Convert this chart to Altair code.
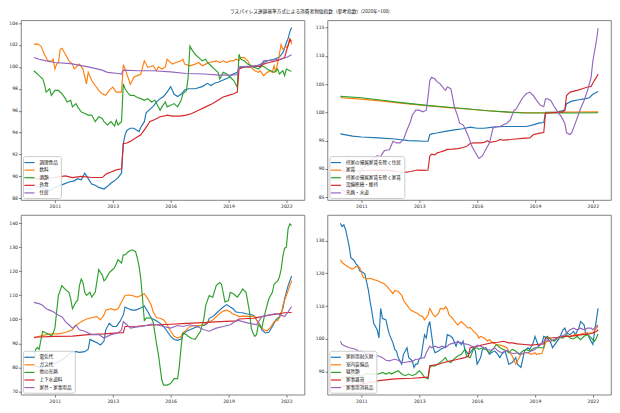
import altair as alt
import pandas as pd

TITLE = "ラスパイレス連鎖基準方式による消費者物価指数（参考指数）(2020年=100)"

# x = month index counted from 2010-01 (0) to 2022-04 (147)
TICK_MONTHS = [12, 45, 78, 111, 144]
TICK_LABELS = ["2011", "2013", "2016", "2019", "2022"]
COLORS = ["#1f77b4", "#ff7f0e", "#2ca02c", "#d62728", "#9467bd"]

# ---------------- panel 1 ----------------
P1_NAMES = ["調理食品", "飲料", "酒類", "外食", "住居"]
cooked_food = [(0,89.3),(3,89.0),(6,88.9),(9,88.7),(12,89.0),(14,89.1),(17,89.3),(20,89.5),(23,89.6),(25,89.8),(27,89.7),(29,90.3),(31,89.8),(33,89.3),(35,89.2),(37,89.0),(40,88.85),(42,89.1),(44,89.4),(46,89.6),(48,89.9),(50,90.3),(51,93.0),(52,93.8),(53,94.2),(55,94.4),(57,94.4),(59,94.2),(60,94.1),(61,94.5),(63,95.0),(64,95.8),(66,96.1),(68,96.4),(70,96.8),(72,97.1),(74,97.3),(76,97.7),(78,98.2),(80,97.5),(82,97.3),(84,97.5),(86,97.9),(88,98.0),(92,98.0),(96,98.2),(99,98.5),(101,98.3),(103,98.5),(105,98.6),(108,98.8),(111,99.0),(113,99.3),(116,99.5),(117,99.9),(120,100.0),(126,100.0),(129,100.1),(131,100.4),(134,100.6),(137,100.7),(140,100.9),(142,101.3),(144,102.2),(145,102.6),(146,103.2),(147,103.6)]
beverages = [(0,102.05),(2,102.1),(4,101.9),(6,101.15),(8,100.55),(10,100.5),(11,100.7),(12,99.8),(13,100.25),(14,100.4),(15,101.6),(16,101.7),(18,101.15),(20,100.55),(22,100.25),(23,99.8),(25,100.1),(26,100.25),(28,99.8),(30,98.45),(31,99.5),(33,98.75),(35,98.3),(37,97.85),(39,97.55),(41,97.4),(43,97.85),(45,98.15),(47,97.7),(50,97.7),(51,100.2),(52,99.8),(54,98.9),(55,98.4),(57,99.05),(59,99.2),(61,99.35),(63,100.55),(65,99.95),(68,100.1),(70,99.65),(71,100.0),(73,99.8),(75,100.0),(76,100.7),(77,100.55),(79,100.25),(81,100.4),(84,100.55),(85,100.7),(86,100.25),(89,100.1),(92,100.25),(94,100.4),(96,100.1),(98,100.25),(100,100.4),(104,100.55),(106,100.4),(108,100.55),(110,100.4),(112,100.55),(114,100.55),(115,100.7),(117,100.6),(118,100.85),(120,100.85),(122,100.55),(124,99.95),(126,99.65),(128,99.5),(129,99.65),(131,99.2),(133,99.5),(135,99.65),(136,99.5),(137,100.1),(138,99.5),(140,101.15),(141,102.05),(142,101.6),(143,101.75),(145,101.9),(146,102.65),(147,102.05)]
alcohol = [(0,99.65),(3,99.2),(5,98.9),(6,98.45),(7,97.7),(9,98.0),(10,97.4),(12,97.85),(14,97.85),(16,97.55),(18,97.1),(19,96.8),(21,96.95),(22,96.35),(24,96.65),(25,96.35),(27,95.9),(29,95.75),(31,95.6),(33,95.6),(35,95.0),(37,95.45),(39,95.3),(40,95.0),(42,94.7),(44,95.0),(46,94.6),(47,95.15),(48,94.7),(50,95.0),(51,98.45),(52,98.0),(54,97.55),(55,97.4),(57,97.4),(59,97.2),(61,97.1),(63,96.95),(65,97.1),(67,96.8),(69,96.95),(70,96.65),(72,96.05),(73,96.35),(75,96.8),(76,96.35),(78,96.5),(80,96.65),(82,96.35),(84,96.95),(85,97.55),(87,97.85),(88,99.05),(89,101.9),(90,101.6),(92,101.15),(94,100.85),(96,100.55),(98,100.7),(99,100.4),(101,100.1),(103,99.8),(105,99.5),(106,98.9),(108,99.5),(110,99.35),(112,99.05),(114,98.75),(116,98.15),(117,101.15),(118,100.7),(120,100.55),(122,100.25),(124,100.1),(126,99.95),(128,99.8),(130,100.1),(132,99.95),(133,99.8),(135,99.65),(137,99.5),(139,99.8),(140,99.35),(142,99.65),(143,99.2),(144,99.8),(146,99.65),(147,99.6)]
eating_out = [(0,89.8),(6,89.8),(12,89.9),(18,90.05),(22,89.9),(27,90.0),(33,89.9),(39,89.9),(41,90.2),(43,90.35),(44,90.4),(47,90.6),(50,90.7),(51,93.0),(53,93.05),(55,93.2),(58,93.5),(61,93.8),(63,94.25),(65,94.7),(66,95.0),(69,95.2),(72,95.45),(74,95.5),(76,95.6),(79,95.5),(83,95.5),(87,95.6),(90,95.75),(94,96.05),(98,96.35),(102,96.65),(105,96.95),(108,97.25),(111,97.4),(114,97.55),(116,97.7),(117,99.8),(120,100.0),(123,100.0),(127,100.1),(129,100.0),(131,100.25),(134,100.4),(138,100.55),(141,100.7),(143,100.85),(144,101.45),(146,102.5),(147,102.3)]
housing = [(0,100.85),(3,100.7),(7,100.55),(12,100.4),(21,100.3),(31,100.0),(39,99.7),(42,99.5),(48,99.4),(50,99.35),(51,99.7),(59,99.65),(68,99.65),(78,99.55),(87,99.4),(97,99.35),(106,99.25),(113,99.25),(116,99.3),(117,100.0),(127,100.1),(130,100.3),(131,100.55),(135,100.6),(140,100.7),(144,100.85),(147,101.1)]

# ---------------- panel 2 ----------------
P2_NAMES = ["持家の帰属家賃を除く住居", "家賃", "持家の帰属家賃を除く家賃", "設備修繕・維持", "光熱・水道"]
housing_ex_imputed = [(0,96.2),(7,95.8),(12,95.65),(22,95.5),(31,95.3),(39,95.0),(48,94.9),(50,94.9),(51,96.05),(52,96.2),(55,96.35),(59,96.6),(65,96.9),(70,97.1),(74,97.4),(78,97.2),(82,97.2),(87,97.4),(93,97.5),(98,97.5),(106,97.5),(110,97.8),(113,98.1),(116,98.2),(117,100.0),(123,100.0),(128,100.4),(129,101.55),(132,102.0),(136,102.25),(140,102.45),(142,102.6),(144,103.2),(147,103.7)]
rent = [(0,102.6),(12,102.35),(24,102.0),(36,101.6),(48,101.25),(60,100.9),(72,100.6),(84,100.3),(96,100.05),(108,99.95),(117,99.95),(120,100.0),(132,100.05),(147,100.1)]
rent_ex_imputed = [(0,102.85),(12,102.6),(24,102.15),(36,101.7),(48,101.3),(60,100.95),(72,100.65),(84,100.3),(96,100.05),(104,99.9),(117,99.9),(120,99.95),(132,99.9),(147,99.95)]
repairs = [(0,89.6),(12,89.7),(24,89.8),(29,89.7),(33,89.5),(37,89.4),(40,89.55),(44,89.8),(48,89.75),(50,89.8),(51,92.3),(52,92.6),(54,92.5),(55,92.8),(57,93.0),(59,93.2),(61,93.45),(64,93.5),(67,93.6),(70,93.8),(72,94.0),(74,94.5),(76,94.6),(80,94.6),(82,94.7),(84,95.0),(85,94.7),(89,94.9),(91,95.2),(93,95.1),(97,95.2),(100,95.3),(104,95.4),(108,95.5),(110,96.05),(112,96.2),(113,96.3),(116,96.45),(117,99.85),(121,99.95),(124,100.0),(127,100.1),(128,100.4),(129,103.0),(131,103.6),(135,103.9),(138,104.2),(141,104.5),(143,104.6),(144,105.2),(146,106.2),(147,106.8)]
fuel_light_water = [(0,86.3),(3,86.0),(6,86.8),(9,87.8),(12,90.0),(15,90.6),(17,91.45),(19,92.0),(21,92.3),(23,92.2),(25,93.2),(26,93.3),(28,93.4),(30,94.9),(32,94.6),(34,94.6),(36,95.2),(38,96.9),(40,98.4),(41,99.5),(43,100.4),(45,100.4),(47,100.1),(49,100.4),(50,102.7),(51,105.6),(52,106.2),(54,105.9),(55,105.5),(57,105.0),(59,104.2),(60,103.9),(61,104.5),(63,104.2),(64,102.7),(65,101.0),(67,99.25),(68,98.1),(70,97.8),(71,97.2),(73,95.8),(75,94.0),(77,92.9),(79,91.85),(81,92.3),(83,93.5),(85,94.6),(86,95.8),(87,97.2),(89,97.5),(91,97.5),(93,97.8),(95,98.1),(97,98.7),(99,100.4),(100,100.5),(101,101.0),(103,102.1),(104,102.6),(106,103.3),(108,103.6),(110,103.0),(112,102.1),(114,101.3),(116,101.0),(117,102.4),(118,102.4),(120,102.1),(122,101.0),(124,100.1),(126,99.25),(128,98.1),(129,96.4),(131,96.1),(132,96.4),(134,98.1),(136,99.8),(137,100.7),(139,102.1),(141,103.9),(143,106.2),(144,109.1),(146,112.6),(147,114.9)]

# ---------------- panel 3 ----------------
P3_NAMES = ["電気代", "ガス代", "他の光熱", "上下水道料", "家具・家事用品"]
electricity = [(0,80.5),(4,80.0),(8,80.5),(11,81.5),(14,82.1),(18,84.1),(21,86.1),(24,86.5),(26,86.2),(29,86.5),(31,87.5),(32,91.6),(34,90.9),(36,90.2),(38,89.3),(40,90.9),(41,95.6),(43,98.3),(45,97.0),(47,97.0),(49,99.0),(51,101.7),(52,105.1),(54,104.4),(56,103.8),(58,103.8),(61,104.7),(63,105.5),(65,103.1),(67,100.4),(69,99.7),(70,99.3),(72,98.3),(74,97.0),(76,95.0),(78,92.9),(80,91.6),(82,91.2),(84,91.8),(85,93.6),(87,95.0),(89,95.6),(92,96.6),(95,97.4),(97,97.4),(99,98.3),(100,100.4),(102,101.1),(104,102.4),(106,103.8),(108,105.1),(110,106.1),(112,105.1),(114,104.2),(115,103.1),(117,102.8),(119,102.7),(121,102.3),(123,102.1),(125,101.7),(126,101.1),(127,99.7),(129,97.7),(130,95.6),(132,94.3),(134,94.6),(136,97.0),(138,99.7),(140,101.1),(142,104.4),(143,108.5),(145,114.0),(147,118.0)]
gas = [(0,92.2),(3,92.9),(7,93.6),(10,93.9),(14,93.9),(18,94.5),(22,95.6),(24,97.4),(27,99.0),(30,100.1),(33,100.6),(36,101.1),(38,99.7),(40,101.8),(41,103.8),(44,104.4),(46,103.8),(48,104.4),(50,107.2),(52,109.9),(54,110.1),(56,109.9),(59,109.2),(61,109.9),(63,110.6),(65,108.5),(67,105.8),(68,103.1),(70,100.6),(72,100.4),(74,99.7),(76,97.7),(78,95.0),(80,92.9),(82,92.2),(84,92.9),(85,94.3),(87,95.6),(89,97.0),(92,97.4),(95,97.4),(97,97.7),(98,98.3),(100,99.0),(102,99.7),(104,101.1),(106,102.4),(108,103.4),(110,103.8),(112,103.1),(113,102.4),(115,101.8),(117,101.1),(119,101.3),(123,101.2),(126,101.1),(127,99.7),(129,97.4),(131,95.6),(133,95.2),(135,96.6),(137,99.0),(139,99.5),(141,101.8),(142,105.8),(144,109.9),(146,114.0),(147,116.0)]
other_fuel = [(0,83.4),(1,87.5),(2,88.2),(3,87.5),(5,95.0),(7,94.3),(9,93.6),(10,92.9),(11,94.3),(12,96.3),(13,103.1),(14,109.9),(16,114.0),(18,112.3),(20,111.2),(21,108.5),(22,104.4),(24,107.2),(25,107.8),(26,114.0),(27,116.7),(28,115.3),(29,111.2),(30,109.9),(32,111.2),(33,109.2),(35,111.2),(37,120.7),(38,119.4),(39,118.5),(40,116.0),(41,116.7),(43,119.4),(44,120.1),(46,121.4),(48,124.8),(50,123.4),(51,126.8),(52,126.8),(53,127.5),(54,128.2),(56,128.9),(58,128.2),(59,125.5),(60,122.1),(61,116.7),(62,108.5),(63,99.5),(64,100.4),(65,100.6),(67,100.4),(68,99.0),(69,94.3),(70,89.5),(71,85.5),(72,80.0),(73,74.6),(74,72.6),(76,72.6),(78,73.2),(80,75.3),(82,75.3),(83,80.7),(84,88.8),(85,94.3),(87,93.6),(88,92.9),(90,92.0),(92,91.6),(95,95.0),(97,100.4),(98,105.8),(100,109.9),(102,109.2),(104,114.0),(106,115.3),(107,114.6),(109,107.2),(111,107.8),(112,111.2),(114,110.5),(116,109.2),(118,111.2),(119,112.6),(121,111.2),(123,103.1),(124,96.3),(125,94.3),(126,92.9),(127,93.6),(128,97.7),(130,96.3),(132,103.1),(134,108.5),(136,111.2),(137,114.6),(139,116.0),(140,117.5),(141,120.7),(142,126.2),(143,129.6),(144,130.0),(145,137.7),(146,139.7),(147,139.0)]
water = [(0,92.5),(12,92.9),(22,93.0),(31,93.6),(40,93.9),(48,94.3),(51,94.4),(52,97.0),(59,97.1),(68,97.6),(78,97.9),(87,98.3),(97,98.6),(106,99.0),(116,99.3),(117,100.1),(125,100.4),(130,101.1),(134,101.7),(138,102.1),(143,102.7),(147,102.8)]
furniture = [(0,107.0),(3,106.5),(5,105.8),(7,104.4),(9,103.8),(11,103.1),(14,101.7),(16,101.1),(18,99.0),(20,97.7),(22,96.3),(24,97.5),(26,95.6),(29,95.0),(33,93.6),(37,93.6),(40,92.2),(44,93.6),(48,94.3),(50,95.6),(51,99.0),(53,97.7),(55,96.3),(59,96.8),(63,97.2),(67,98.0),(70,97.7),(74,97.0),(78,96.3),(82,97.4),(85,97.0),(89,97.7),(93,97.0),(97,95.6),(100,95.0),(104,96.3),(108,97.0),(112,97.7),(116,99.7),(119,99.0),(123,98.3),(127,97.7),(130,101.1),(134,101.7),(138,102.4),(141,101.7),(143,101.1),(145,103.1),(147,105.3)]

# ---------------- panel 4 ----------------
P4_NAMES = ["家庭用耐久財", "室内装備品", "寝具類", "家事雑貨", "家事用消耗品"]
durables = [(0,135.3),(1,134.3),(2,134.8),(3,133.3),(5,128.3),(6,124.8),(7,124.3),(8,123.8),(9,122.8),(10,122.3),(11,120.8),(13,120.3),(14,119.8),(15,117.3),(16,114.8),(17,111.3),(18,108.3),(19,104.8),(20,103.8),(21,102.8),(22,100.3),(23,109.3),(24,106.3),(26,105.8),(27,103.3),(28,101.3),(30,98.8),(31,96.8),(32,96.3),(33,94.3),(35,92.3),(36,95.3),(38,97.3),(39,94.3),(41,93.3),(42,91.3),(43,92.3),(44,92.3),(45,94.0),(46,94.3),(48,101.3),(49,100.3),(50,103.8),(51,105.3),(52,101.3),(53,97.3),(54,95.8),(56,96.3),(57,96.8),(59,97.3),(60,97.8),(61,101.3),(63,100.8),(64,100.3),(66,97.8),(67,99.3),(69,98.3),(70,99.3),(71,96.8),(73,95.3),(74,95.8),(76,97.3),(77,96.3),(78,92.3),(80,94.3),(81,96.8),(83,97.3),(85,95.3),(86,95.8),(88,96.3),(89,95.8),(91,94.3),(92,95.3),(94,96.3),(95,94.3),(96,92.3),(98,92.8),(100,94.3),(101,92.3),(103,91.3),(104,93.8),(105,96.3),(107,97.3),(108,96.8),(110,98.8),(111,100.8),(112,99.3),(113,97.8),(115,98.8),(116,100.8),(118,100.3),(120,98.8),(121,97.3),(123,98.8),(125,100.3),(127,102.8),(128,103.3),(129,101.8),(131,101.3),(133,102.3),(134,101.3),(136,103.3),(137,105.3),(139,104.3),(140,101.3),(141,101.8),(142,100.3),(144,98.3),(145,102.3),(146,105.8),(147,109.3)]
interior = [(0,124.1),(1,123.3),(3,122.5),(5,121.8),(7,121.3),(9,122.1),(11,121.8),(12,120.3),(13,118.8),(15,118.3),(17,118.5),(19,118.1),(21,117.8),(23,117.3),(25,116.8),(27,115.8),(28,115.1),(30,113.8),(31,114.8),(33,114.5),(35,113.3),(36,111.8),(38,110.3),(40,108.8),(42,108.3),(44,107.8),(45,107.3),(47,106.8),(48,105.8),(50,107.3),(51,109.3),(52,108.3),(53,107.3),(54,106.8),(56,107.8),(57,109.3),(59,109.1),(60,109.8),(61,109.1),(62,107.3),(64,106.3),(66,104.8),(67,104.3),(69,105.3),(71,104.3),(73,103.3),(74,103.5),(76,102.3),(78,101.3),(79,100.3),(80,100.8),(82,100.3),(84,99.3),(85,99.8),(87,98.8),(89,98.3),(91,98.1),(93,97.8),(95,97.3),(96,96.3),(98,94.8),(100,92.3),(101,93.3),(103,95.3),(105,95.8),(107,95.8),(109,95.3),(111,95.8),(112,95.3),(115,95.6),(117,98.8),(118,99.3),(120,99.3),(122,99.8),(124,100.3),(126,100.3),(128,100.8),(131,100.8),(134,101.3),(136,101.3),(139,101.8),(142,101.8),(144,101.8),(146,103.3),(147,103.8)]
bedding = [(0,88.0),(5,88.5),(9,89.0),(12,88.7),(15,89.5),(18,89.3),(22,89.3),(24,89.8),(26,89.3),(28,89.8),(29,89.3),(31,89.8),(33,90.3),(35,89.3),(37,88.8),(39,89.3),(41,88.8),(43,89.3),(45,90.3),(46,89.8),(48,88.3),(50,87.8),(51,91.3),(52,91.8),(54,91.8),(56,92.5),(58,93.3),(60,94.3),(61,93.3),(63,92.8),(65,94.0),(67,94.8),(69,95.3),(71,96.8),(72,94.8),(74,94.3),(76,97.0),(78,97.3),(79,96.8),(81,97.3),(83,96.8),(85,95.8),(87,96.8),(89,98.3),(91,97.3),(93,96.8),(95,96.3),(96,95.8),(98,96.8),(100,96.3),(102,95.3),(104,96.3),(106,96.8),(108,96.3),(110,97.0),(111,97.3),(113,97.3),(116,97.3),(117,100.3),(118,100.8),(120,99.8),(122,99.3),(124,100.3),(125,100.8),(127,100.3),(129,101.3),(131,100.3),(133,100.0),(135,100.8),(137,99.8),(139,100.8),(141,101.3),(143,100.3),(145,99.3),(146,100.3),(147,101.5)]
household_goods = [(0,85.5),(6,85.8),(12,86.2),(18,86.8),(22,87.3),(31,87.8),(41,88.0),(48,88.3),(50,88.3),(51,91.8),(56,92.3),(59,92.8),(63,93.3),(67,93.8),(71,94.3),(73,94.8),(74,97.3),(76,97.5),(78,97.8),(82,98.3),(86,98.8),(90,99.0),(93,99.3),(96,98.8),(98,98.8),(101,98.5),(105,98.3),(109,98.1),(112,98.3),(116,98.5),(117,100.3),(120,100.3),(124,100.5),(127,100.8),(131,100.8),(135,101.1),(138,101.3),(142,101.5),(144,101.8),(146,102.3),(147,102.8)]
consumables = [(0,99.3),(1,98.3),(3,97.8),(5,97.3),(7,97.1),(9,96.8),(11,96.1),(12,96.3),(14,95.8),(16,95.5),(18,95.1),(20,94.8),(22,94.8),(24,94.3),(26,93.5),(28,93.3),(29,93.5),(31,93.8),(33,93.5),(35,92.8),(37,92.8),(39,93.1),(41,93.1),(43,93.8),(45,93.8),(46,94.1),(48,94.3),(49,95.8),(51,97.8),(52,97.3),(54,97.8),(56,97.3),(58,97.8),(60,97.3),(62,98.3),(63,98.5),(65,98.8),(67,99.1),(69,98.8),(71,98.5),(73,98.3),(75,97.8),(77,97.3),(78,98.1),(80,97.8),(82,97.3),(84,96.8),(86,96.5),(88,97.3),(90,96.3),(92,95.8),(94,96.3),(95,96.5),(97,95.8),(99,95.5),(101,95.8),(103,95.3),(105,95.8),(107,95.8),(109,96.3),(111,96.8),(112,97.3),(114,98.1),(117,99.8),(118,99.5),(120,99.3),(122,99.8),(124,100.3),(126,100.8),(128,101.3),(129,101.8),(131,102.8),(133,103.3),(135,102.8),(137,103.3),(139,102.8),(141,103.3),(143,103.3),(144,102.8),(146,103.8),(147,104.3)]

PANELS = [
    (P1_NAMES, [cooked_food, beverages, alcohol, eating_out, housing], [87.85, 104.25], list(range(88, 105, 2))),
    (P2_NAMES, [housing_ex_imputed, rent, rent_ex_imputed, repairs, fuel_light_water], [84.5, 116.3], list(range(85, 116, 5))),
    (P3_NAMES, [electricity, gas, other_fuel, water, furniture], [68.6, 143.4], list(range(70, 141, 10))),
    (P4_NAMES, [durables, interior, bedding, household_goods, consumables], [83.0, 137.8], list(range(90, 131, 10))),
]

label_expr = " : ".join(
    f"datum.value == {m} ? '{lab}'" for m, lab in zip(TICK_MONTHS, TICK_LABELS)
) + " : ''"

W, H = 284, 180


def panel(names, series, ydom, yticks):
    rows = []
    for k, (name, pts) in enumerate(zip(names, series)):
        for t, v in pts:
            rows.append({"series": name, "order": k, "t": t, "v": v})
    df = pd.DataFrame(rows)
    return alt.Chart(df).mark_line(strokeWidth=1.15, clip=True).encode(
        x=alt.X("t:Q",
                scale=alt.Scale(domain=[-7.35, 154.35], nice=False, zero=False),
                axis=alt.Axis(values=TICK_MONTHS, labelExpr=label_expr, title=None, grid=False)),
        y=alt.Y("v:Q",
                scale=alt.Scale(domain=ydom, nice=False, zero=False),
                axis=alt.Axis(values=yticks, title=None, grid=False)),
        color=alt.Color("series:N",
                        scale=alt.Scale(domain=names, range=COLORS),
                        legend=alt.Legend(title=None, orient="bottom-left")),
    ).properties(width=W, height=H)


charts = [panel(*p) for p in PANELS]

chart = alt.concat(
    *charts,
    columns=2,
    spacing={"row": 15, "column": 23},
    bounds="flush",
    title=alt.TitleParams(TITLE, fontSize=4.7, font="Noto Sans CJK JP", fontWeight="normal",
                          anchor="middle", offset=6, color="#111"),
).resolve_scale(
    color="independent", x="independent", y="independent"
).resolve_legend(
    color="independent"
).properties(
    padding=0
).configure_view(
    stroke="#666", strokeWidth=0.8
).configure_axis(
    domain=False, labelFont="DejaVu Sans", labelFontSize=4.6, labelColor="#222",
    tickColor="#333", tickSize=2.5, tickWidth=0.6, labelPadding=1
).configure_legend(
    labelFont="Noto Sans CJK JP", labelFontSize=4.6, labelColor="#111",
    symbolType="M-1.5,0H1.5", symbolSize=46, symbolStrokeWidth=1.2,
    labelOffset=6, rowPadding=0.6, padding=2.5, offset=2,
    fillColor="rgba(255,255,255,0.85)", strokeColor="#ccc", cornerRadius=2
)

chart.save("out.html", embed_options={"renderer": "svg", "actions": False})
